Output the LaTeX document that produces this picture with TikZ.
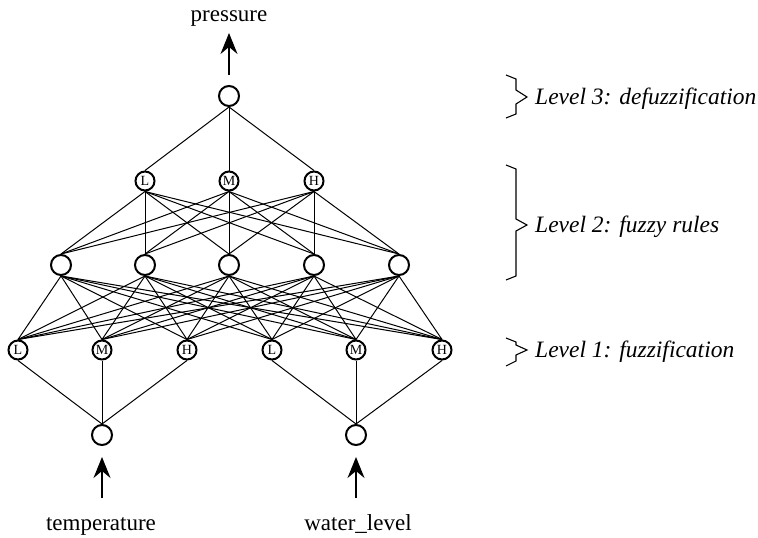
\documentclass[tikz,border=0pt]{standalone}
\usepackage{fontspec}
\setmainfont{Liberation Serif}
\usetikzlibrary{arrows.meta}
\begin{document}
\begin{tikzpicture}[x=1pt,y=-1pt,
  neuron/.style={circle,draw,line width=2pt,minimum size=20pt,inner sep=0pt},
  fuzzy/.style={neuron,minimum size=19pt,font=\fontsize{14}{14}\selectfont},
  link/.style={line width=1pt},
  arr/.style={line width=1.4pt,-{Stealth[length=21pt,width=17pt,inset=7pt]}},
  brace/.style={line width=1.1pt,line join=miter},
  lvl/.style={anchor=base west,font=\fontsize{23.5}{26}\selectfont\itshape,inner sep=0pt},
  io/.style={anchor=base,font=\fontsize{23}{26}\selectfont,inner sep=0pt}]
\useasboundingbox (0,0) rectangle (758,538);
% output
\node[neuron] (out) at (229,96) {};
% level 3
\node[fuzzy] (c1) at (145,181) {L};
\node[fuzzy] (c2) at (229,181) {M};
\node[fuzzy] (c3) at (314,181) {H};
% level 2
\node[neuron] (r1) at (61,265) {};
\node[neuron] (r2) at (145,265) {};
\node[neuron] (r3) at (229,265) {};
\node[neuron] (r4) at (314,265) {};
\node[neuron] (r5) at (399,265) {};
% level 1
\node[fuzzy] (f1) at (18,350) {L};
\node[fuzzy] (f2) at (102,350) {M};
\node[fuzzy] (f3) at (187,350) {H};
\node[fuzzy] (f4) at (272,350) {L};
\node[fuzzy] (f5) at (356,350) {M};
\node[fuzzy] (f6) at (442,350) {H};
% inputs
\node[neuron] (in1) at (102,435) {};
\node[neuron] (in2) at (356,435) {};
% texts
\node[io] (pressure) at (229,21) {pressure};
\node[io] (temp) at (101,530) {temperature};
\node[io] (water) at (358,530) {water\_level};
\coordinate (ptip) at (229,33);
\coordinate (t1) at (102,498);
\coordinate (t2) at (356,498);
% connectors
\foreach \c in {c1,c2,c3} \draw[link] (out.south) -- (\c.north);
\foreach \c in {c1,c2,c3} \foreach \r in {r1,r2,r3,r4,r5} \draw[link] (\c.south) -- (\r.north);
\foreach \r in {r1,r2,r3,r4,r5} \foreach \f in {f1,f2,f3,f4,f5,f6} \draw[link] (\r.south) -- (\f.north);
\foreach \f in {f1,f2,f3} \draw[link] (\f.south) -- (in1.north);
\foreach \f in {f4,f5,f6} \draw[link] (\f.south) -- (in2.north);
% arrows
\draw[arr,shorten <=10pt] (out.north) -- (ptip);
\draw[arr,shorten >=11pt] (t1) -- (in1.south);
\draw[arr,shorten >=11pt] (t2) -- (in2.south);
% braces
\draw[brace] (506,75) -- (516,79) -- (516,90) -- (527,97) -- (516,104) -- (516,114) -- (506,118);
\draw[brace] (506,165) -- (516,169) -- (516,219) -- (527,225) -- (516,231) -- (516,276) -- (506,280);
\draw[brace] (506,338) -- (516,342) -- (516,345) -- (527,350) -- (516,355) -- (516,361) -- (506,366);
\node[lvl] (l3) at (535,104) {Level 3: defuzzification};
\node[lvl] (l2) at (535,232) {Level 2: fuzzy rules};
\node[lvl] (l1) at (535,357) {Level 1: fuzzification};
\end{tikzpicture}
\end{document}
